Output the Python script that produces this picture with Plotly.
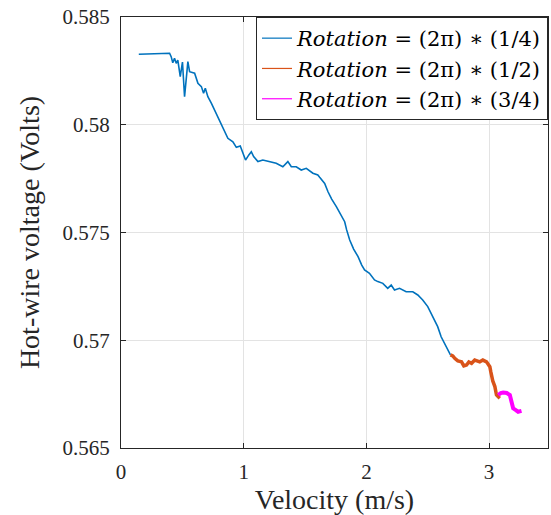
import plotly.graph_objects as go

# Series 1: Rotation = (2π)*(1/4)
x1 = [0.145, 0.396, 0.409, 0.422, 0.436, 0.450, 0.463, 0.483, 0.501, 0.518, 0.545,
      0.559, 0.600, 0.627, 0.655, 0.673, 0.687, 0.708, 0.736, 0.763, 0.790, 0.818, 0.845,
      0.871, 0.912, 0.940, 0.972, 0.993, 1.015, 1.042, 1.062, 1.081, 1.116, 1.156, 1.211,
      1.265, 1.319, 1.360, 1.388, 1.428, 1.469, 1.510, 1.564, 1.604,
      1.619, 1.660, 1.687, 1.717, 1.755, 1.790, 1.823, 1.839, 1.864, 1.896, 1.932, 1.962,
      1.985, 2.025, 2.066, 2.093, 2.134, 2.174, 2.202, 2.229, 2.270, 2.324, 2.378, 2.419,
      2.459, 2.500, 2.528, 2.555, 2.581, 2.609, 2.636, 2.663, 2.685]
y1 = [0.58327, 0.58332, 0.58316, 0.58288, 0.58308, 0.58285, 0.58300, 0.58223, 0.58291,
      0.58130, 0.58293,
      0.58246, 0.58239, 0.58192, 0.58177, 0.58146, 0.58169, 0.58130, 0.58100, 0.58068,
      0.58037, 0.57999, 0.57968, 0.57937, 0.57921, 0.57895, 0.57901, 0.57867, 0.57836,
      0.57860, 0.57875, 0.57852, 0.57829, 0.57836, 0.57829, 0.57821, 0.57805, 0.57829,
      0.57805, 0.57805, 0.57790, 0.57798, 0.57775, 0.57767,
      0.57756, 0.57728, 0.57689, 0.57655, 0.57620, 0.57586, 0.57550, 0.57512, 0.57465,
      0.57423, 0.57388, 0.57349,
      0.57326, 0.57311, 0.57280, 0.57272, 0.57264, 0.57241, 0.57256, 0.57233, 0.57241,
      0.57225, 0.57225, 0.57210, 0.57187, 0.57156, 0.57125, 0.57094, 0.57063, 0.57016,
      0.56986, 0.56955, 0.56932]

# Series 2: Rotation = (2π)*(1/2)
x2 = [2.685, 2.704, 2.720, 2.745, 2.775, 2.794, 2.816, 2.835, 2.857, 2.883, 2.924, 2.949,
      2.979, 2.998, 3.006, 3.014, 3.020, 3.030, 3.047, 3.055, 3.060, 3.087]
y2 = [0.56932, 0.56927, 0.56916, 0.56904, 0.56900, 0.56881, 0.56885, 0.56899, 0.56893,
      0.56908, 0.56900, 0.56908, 0.56900, 0.56885, 0.56877, 0.56853, 0.56831, 0.56811,
      0.56785, 0.56765, 0.56746, 0.56731]

# Series 3: Rotation = (2π)*(3/4)
x3 = [3.074, 3.095, 3.114, 3.144, 3.169, 3.177, 3.183, 3.189, 3.196, 3.218, 3.237, 3.264]
y3 = [0.56746, 0.56755, 0.56757, 0.56755, 0.56746, 0.56732, 0.56715, 0.56699, 0.56684,
      0.56676, 0.56668, 0.56672]

names = ["<i>Rotation</i> = (2π) ∗ (1/4)",
         "<i>Rotation</i> = (2π) ∗ (1/2)",
         "<i>Rotation</i> = (2π) ∗ (3/4)"]
colors = ["#0072BD", "#D95319", "#FF00FF"]
widths = [1.6, 3.5, 4]

yticks = [0.565, 0.57, 0.575, 0.58, 0.585]
yticktext = ["0.565", "0.57", "0.575", "0.58", "0.585"]
xticks = [0, 1, 2, 3]

FONT = "Liberation Serif"

fig = go.Figure()
for xs, ys, c, w in zip([x1, x2, x3], [y1, y2, y3], colors, widths):
    fig.add_trace(go.Scatter(x=xs, y=ys, mode="lines", line=dict(color=c, width=w),
                             showlegend=False, hoverinfo="skip"))
for n, c in zip(names, colors):
    fig.add_trace(go.Scatter(x=[None], y=[None], mode="lines", name=n,
                             line=dict(color=c, width=1.2)))

axis_common = dict(showline=True, linecolor="#262626", linewidth=1, mirror="allticks",
                   ticks="inside", ticklen=5, tickcolor="#262626", automargin=False,
                   showgrid=True, gridcolor="#E3E3E3", gridwidth=1, zeroline=False,
                   tickfont=dict(family=FONT, size=21, color="#262626"))

fig.update_xaxes(range=[0, 3.48], tickvals=xticks, ticktext=[str(t) for t in xticks],
                 ticklabelstandoff=5,
                 title=dict(text="Velocity (m/s)", font=dict(family=FONT, size=28, color="#262626"),
                            standoff=2),
                 **axis_common)
fig.update_yaxes(range=[0.565, 0.585], tickvals=yticks, ticktext=yticktext,
                 ticklabelstandoff=6,
                 title=dict(text="Hot-wire voltage (Volts)",
                            font=dict(family=FONT, size=28, color="#262626"), standoff=14),
                 **axis_common)

fig.update_layout(
    width=551, height=515,
    margin=dict(l=121, r=3, t=17, b=67),
    paper_bgcolor="white", plot_bgcolor="white",
    font=dict(family=FONT, color="#262626"),
    legend=dict(x=1, y=1, xanchor="right", yanchor="top",
                bgcolor="white", bordercolor="#262626", borderwidth=1,
                font=dict(family="DejaVu Serif", size=21, color="black"),
                tracegroupgap=0, itemwidth=30),
)

fig.write_html("out.html", config={"displayModeBar": False},
               post_script="document.body.style.margin='0';document.body.style.overflow='hidden';")
